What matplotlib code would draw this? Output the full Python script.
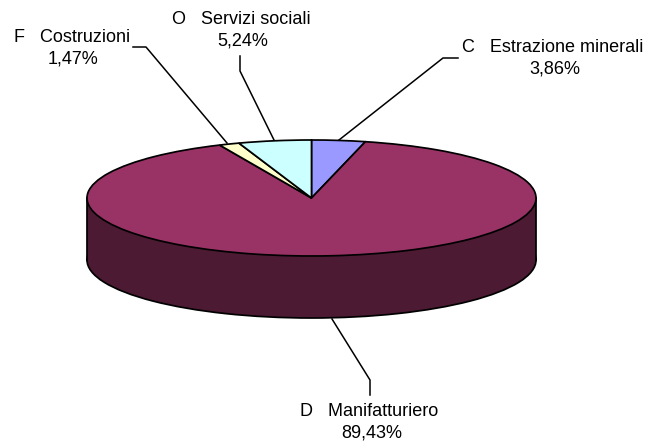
import matplotlib
matplotlib.use("Agg")
import matplotlib.pyplot as plt
from matplotlib.patches import Rectangle
from matplotlib.lines import Line2D

categories = ["C   Estrazione minerali", "D   Manifatturiero", "F   Costruzioni", "O   Servizi sociali"]
values = [3.86, 89.43, 1.47, 5.24]
pct_labels = ["3,86%", "89,43%", "1,47%", "5,24%"]
colors = ["#9999FF", "#993366", "#FFFFCC", "#CCFFFF"]
side_color = "#4C1A33"

W, H = 648, 443
CX, CY, RX, RY, DEPTH = 311.5, 198, 224.5, 58, 62
LW = 1.25

plt.rcParams["font.family"] = ["Liberation Sans", "DejaVu Sans"]
fig = plt.figure(figsize=(W / 100, H / 100), dpi=100, facecolor="white")
ax = fig.add_axes([0, 0, 1, 1])
edge = dict(edgecolor="black", linewidth=LW)

# side wall of the disc: lower disc plus band
d = DEPTH / RY
ax.pie([sum(values)], colors=[side_color], center=(0, -d), radius=1, wedgeprops=edge)
ax.add_patch(Rectangle((-1, -d), 2, d, facecolor=side_color, edgecolor="none", zorder=1.5))
ax.plot([-1, -1], [-d, 0], color="black", lw=LW, zorder=1.6)
ax.plot([1, 1], [-d, 0], color="black", lw=LW, zorder=1.6)
# top face
wedges, _ = ax.pie(values, colors=colors, startangle=90, counterclock=False,
                   center=(0, 0), radius=1, wedgeprops=edge)
for w in wedges:
    w.set_zorder(2)

ax.set_aspect("auto")
ax.set_xlim((0 - CX) / RX, (W - CX) / RX)
ax.set_ylim((CY - H) / RY, CY / RY)
ax.axis("off")


def fx(x):
    return x / W


def fy(y):
    return 1 - y / H


leaders = [
    ([339, 443, 458], [140, 58, 58]),
    ([332, 370, 370], [319, 380, 395]),
    ([227, 146, 133], [143, 47, 47]),
    ([274, 240, 240], [140, 71, 56]),
]
label_pos = [(553, 47, 555, 69), (369, 411, 372, 433), (72, 37, 73, 59), (241, 20, 243, 41)]

for xs, ys in leaders:
    fig.add_artist(Line2D([fx(x) for x in xs], [fy(y) for y in ys], color="black", lw=1.1))

for name, pct, (x1, y1, x2, y2) in zip(categories, pct_labels, label_pos):
    fig.text(fx(x1), fy(y1), name, ha="center", va="center", fontsize=13, color="black")
    fig.text(fx(x2), fy(y2), pct, ha="center", va="center", fontsize=13, color="black")

fig.savefig("out.png", dpi=100, facecolor="white")
